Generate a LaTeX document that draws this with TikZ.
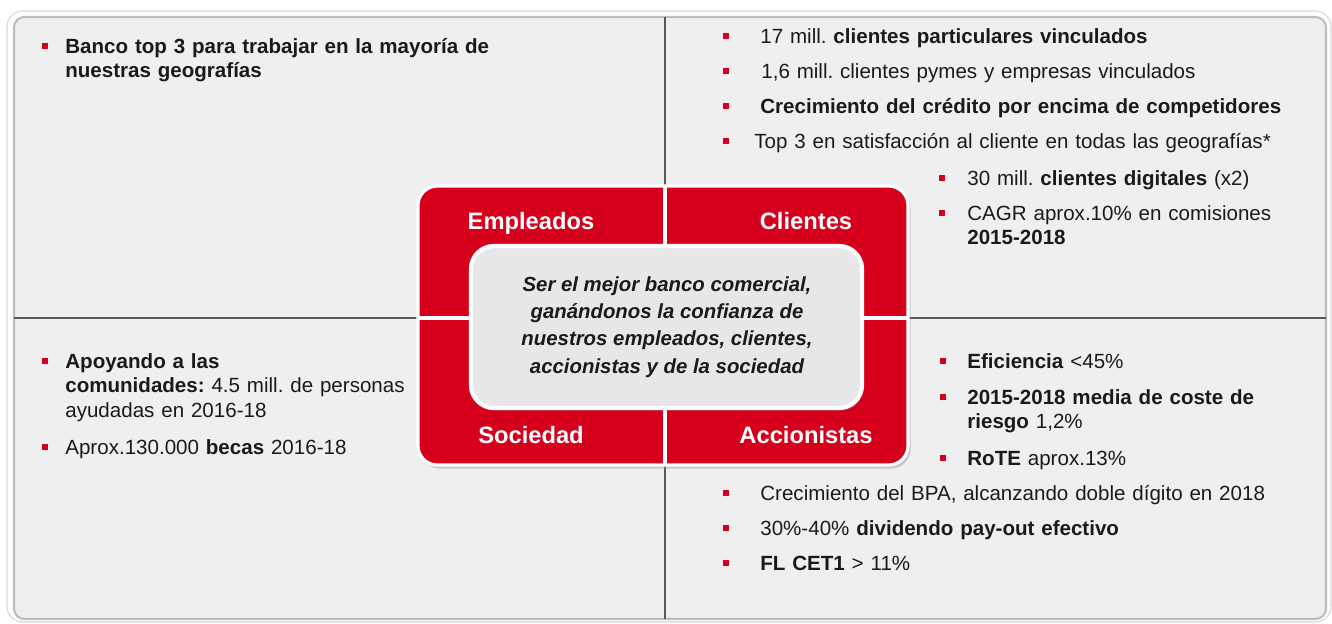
\documentclass[tikz,border=0pt]{standalone}
\usepackage{fontspec}
\setmainfont{Liberation Sans}
\usepackage{xcolor}
\definecolor{ink}{HTML}{1A1A1A}
\definecolor{bankRed}{HTML}{D6001C}
\definecolor{panelGray}{HTML}{EFEFEF}
\definecolor{coreGray}{HTML}{E7E7E7}
\definecolor{lineGray}{HTML}{5A5A5A}
\definecolor{frameGray}{HTML}{BDBDBD}
\usepackage{tikz}
\usetikzlibrary{shadows, positioning}
\frenchspacing

% one bullet point: name, bullet x, text x, baseline y, text
\newcommand{\goalItem}[5]{%
  \fill[bulletSq] (#2-3,#4-10) rectangle (#2+3,#4-4);
  \node[itemText] (#1) at (#3,#4) {#5};}

\begin{document}
\begin{tikzpicture}[
  x=0.02cm, y=-0.02cm,
  font=\fontsize{11.7}{14.2}\selectfont,
  itemText/.style={anchor=base west, inner sep=0pt, align=left, text width=560pt, text=ink},
  bulletSq/.style={fill=bankRed},
  quadLabel/.style={anchor=base, inner sep=0pt, text=white, font=\fontsize{13.5}{16}\selectfont\bfseries},
  coreText/.style={align=center, inner sep=0pt, text=ink, font=\fontsize{11.6}{15.6}\selectfont\bfseries\itshape},
  divider/.style={draw=lineGray, line width=1.1pt},
  cross/.style={draw=white, line width=1.8pt},
]
\useasboundingbox (0,0) rectangle (1332,623);

% ------------------- Frame and quadrants -------------------
\draw[fill=white, draw=frameGray!60, line width=0.6pt, rounded corners=9pt] (7,11) rectangle (1331,622);
\draw[fill=panelGray, draw=frameGray, line width=1.2pt, rounded corners=6pt] (14,17) rectangle (1326,619);
\draw[divider] (665,17) -- (665,619);
\draw[divider] (14,318) -- (1326,318);

% ------------------- Red core -------------------
\path[fill=bankRed, draw=white, line width=1.8pt, rounded corners=11pt,
      drop shadow={shadow xshift=1.5pt, shadow yshift=-2pt, opacity=0.35}]
  (418,186) rectangle (908,465);
\draw[cross] (665,187) -- (665,464);
\draw[cross] (419,318) -- (907,318);
\path[fill=coreGray, draw=white, line width=2.4pt, rounded corners=13pt,
      drop shadow={shadow xshift=1pt, shadow yshift=-1.5pt, opacity=0.3}]
  (471,246) rectangle (862,408);

\node[quadLabel] (empleados) at (531,229) {Empleados};
\node[quadLabel] (clientes) at (806,229) {Clientes};
\node[quadLabel] (sociedad) at (531,443) {Sociedad};
\node[quadLabel] (accionistas) at (806,443) {Accionistas};

\node[coreText] (mission) at (667,327) {Ser el mejor banco comercial,\\ganándonos la confianza de\\nuestros empleados, clientes,\\accionistas y de la sociedad};

% ------------------- Empleados (top left) -------------------
\goalItem{topEmp}{45}{65}{53}{\textbf{Banco top 3 para trabajar en la mayoría de}\\\textbf{nuestras geografías}}

% ------------------- Clientes (top right) -------------------
\goalItem{cliPart}{726}{760}{43}{17 mill. \textbf{clientes particulares vinculados}}
\goalItem{cliPymes}{726}{761}{78}{1,6 mill. clientes pymes y empresas vinculados}
\goalItem{cliCredit}{726}{760}{113}{\textbf{Crecimiento del crédito por encima de competidores}}
\goalItem{cliSatis}{726}{754}{148}{Top 3 en satisfacción al cliente en todas las geografías*}
\goalItem{cliDigital}{942}{967}{185}{30 mill. \textbf{clientes digitales} (x2)}
\goalItem{cliCagr}{942}{967}{220}{CAGR aprox.10\% en comisiones\\\textbf{2015-2018}}

% ------------------- Sociedad (bottom left) -------------------
\goalItem{socComm}{45}{65}{368}{\textbf{Apoyando a las}\\\textbf{comunidades:} 4.5 mill. de personas\\ayudadas en 2016-18}
\goalItem{socBecas}{45}{65}{454}{Aprox.130.000 \textbf{becas} 2016-18}

% ------------------- Accionistas (bottom right) -------------------
\goalItem{accEff}{943}{967}{368}{\textbf{Eficiencia} <45\%}
\goalItem{accRisk}{943}{967}{404}{\textbf{2015-2018 media de coste de}\\\textbf{riesgo} 1,2\%}
\goalItem{accRote}{943}{967}{465}{\textbf{RoTE} aprox.13\%}
\goalItem{accBpa}{726}{760}{500}{Crecimiento del BPA, alcanzando doble dígito en 2018}
\goalItem{accPay}{726}{760}{535}{30\%-40\% \textbf{dividendo pay-out efectivo}}
\goalItem{accCet}{726}{760}{570}{\textbf{FL CET1} > 11\%}

\end{tikzpicture}
\end{document}
